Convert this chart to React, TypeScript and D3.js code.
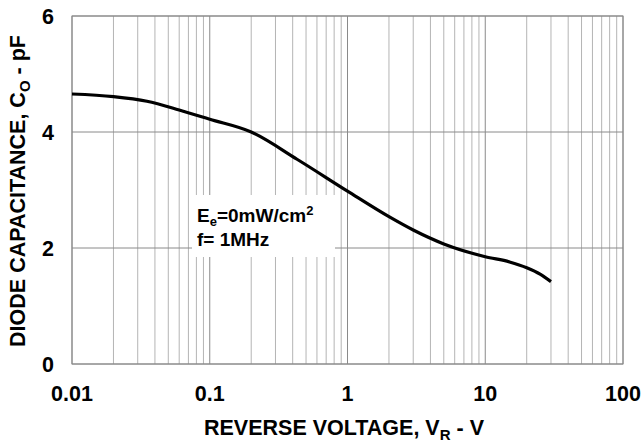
import React from "react";
import * as d3 from "d3";

const voltages = [0.01, 0.02, 0.035, 0.06, 0.1, 0.2, 0.43, 1, 2, 3, 5, 10, 15, 20, 25, 30];
const capacitance = [4.655, 4.61, 4.53, 4.38, 4.22, 4.0, 3.53, 2.98, 2.54, 2.31, 2.07, 1.85, 1.76, 1.66, 1.55, 1.42];
const xTicks = [0.01, 0.1, 1, 10, 100];
const xTickLabels = ["0.01", "0.1", "1", "10", "100"];
const yTicks = [0, 2, 4, 6];

const W = 644, H = 448;
const M = { left: 72, right: 623, top: 16, bottom: 364 };
const FONT = "'Liberation Sans', Arial, Helvetica, sans-serif";

export default function App() {
  const x = d3.scaleLog().domain([0.01, 100]).range([M.left, M.right]);
  const y = d3.scaleLinear().domain([0, 6]).range([M.bottom, M.top]);

  const minor: number[] = [];
  for (let d = 0.01; d < 100; d *= 10) {
    for (let k = 2; k <= 9; k++) minor.push(+(d * k).toPrecision(3));
  }
  const pts: [number, number][] = voltages.map((v, i) => [v, capacitance[i]]);
  const line = d3
    .line<[number, number]>()
    .x((d) => x(d[0]))
    .y((d) => y(d[1]))
    .curve(d3.curveMonotoneX);

  return (
    <svg width={W} height={H} style={{ position: "absolute", left: 0, top: 0 }} fontFamily={FONT}>
      <rect width={W} height={H} fill="#fff" />
      {minor.map((v) => (
        <line key={"m" + v} x1={x(v)} x2={x(v)} y1={M.top} y2={M.bottom} stroke="#b4b4b4" strokeWidth={1} />
      ))}
      {xTicks.map((v) => (
        <line key={"M" + v} x1={x(v)} x2={x(v)} y1={M.top} y2={M.bottom} stroke="#8a8a8a" strokeWidth={1} />
      ))}
      {yTicks.map((v) => (
        <line key={"h" + v} x1={M.left} x2={M.right} y1={y(v)} y2={y(v)} stroke="#8a8a8a" strokeWidth={1} />
      ))}
      <rect x={M.left} y={M.top} width={M.right - M.left} height={M.bottom - M.top} fill="none" stroke="#8a8a8a" strokeWidth={1} />
      {/* annotation box */}
      <rect x={192} y={195} width={143} height={62} fill="#fff" />
      <text x={197} y={222} fontSize={19} fontWeight="bold" fill="#000">
        E<tspan fontSize={13} dy={4}>e</tspan>
        <tspan dy={-4}>=0mW/cm</tspan>
        <tspan fontSize={13} dy={-7}>2</tspan>
      </text>
      <text x={197} y={246} fontSize={19} fontWeight="bold" fill="#000">f= 1MHz</text>
      <path d={line(pts) || ""} fill="none" stroke="#000" strokeWidth={3.2} strokeLinejoin="round" />
      {yTicks.map((v) => (
        <text key={"yl" + v} x={54} y={y(v)} dy="0.36em" textAnchor="end" fontSize={21.5} fontWeight="bold">{v}</text>
      ))}
      {xTicks.map((v, i) => (
        <text key={"xl" + v} x={x(v)} y={401} textAnchor="middle" fontSize={21.5} fontWeight="bold">{xTickLabels[i]}</text>
      ))}
      <text x={344} y={435} textAnchor="middle" fontSize={21.5} fontWeight="bold">
        REVERSE VOLTAGE, V<tspan fontSize={15} dy={5}>R</tspan>
        <tspan dy={-5}> - V</tspan>
      </text>
      <text transform={`translate(25, 191) rotate(-90)`} textAnchor="middle" fontSize={21.5} fontWeight="bold">
        DIODE CAPACITANCE, C<tspan fontSize={15} dy={5}>O</tspan>
        <tspan dy={-5}> - pF</tspan>
      </text>
    </svg>
  );
}
